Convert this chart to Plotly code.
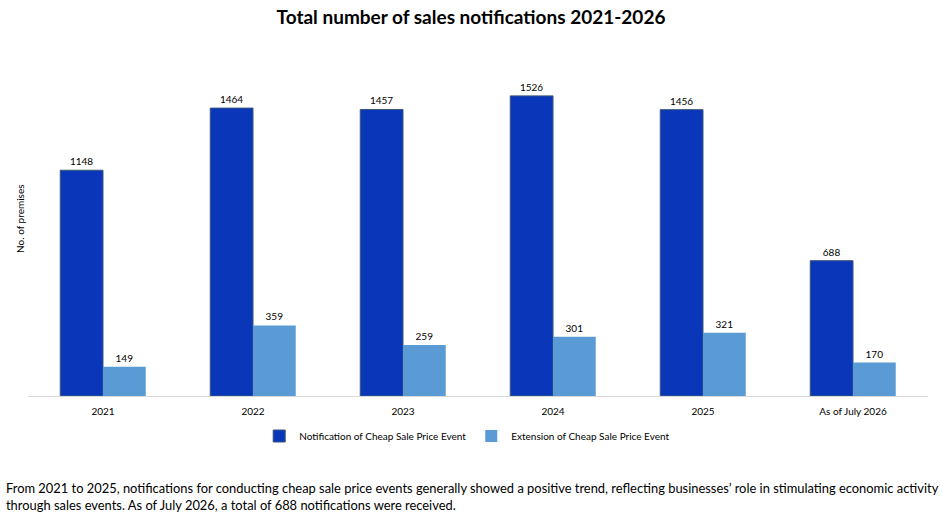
import plotly.graph_objects as go

categories = ["2021", "2022", "2023", "2024", "2025", "As of July 2026"]
notification = [1148, 1464, 1457, 1526, 1456, 688]
extension = [149, 359, 259, 301, 321, 170]

FONT = "Lato"

fig = go.Figure()
fig.add_trace(go.Bar(
    x=categories, y=notification, name="Notification of Cheap Sale Price Event",
    marker=dict(color="#0A37BA", line=dict(color="#3B5677", width=1)),
    text=notification, textposition="outside", cliponaxis=False,
    textfont=dict(size=10, color="#000000", family=FONT),
))
fig.add_trace(go.Bar(
    x=categories, y=extension, name="Extension of Cheap Sale Price Event",
    marker=dict(color="#5B9BD5", line=dict(width=0)),
    text=extension, textposition="outside", cliponaxis=False,
    textfont=dict(size=10, color="#000000", family=FONT),
))

fig.update_layout(
    width=942, height=517, autosize=False,
    margin=dict(l=28, r=14, t=42, b=121, autoexpand=False),
    paper_bgcolor="white", plot_bgcolor="white",
    barmode="group", bargap=0.43, bargroupgap=0,
    font=dict(family=FONT, color="#000000"),
    title=dict(text="<b>Total number of sales notifications 2021-2026</b>",
               x=0.5, xanchor="center", xref="container", yref="container", y=0.967, yanchor="middle",
               font=dict(size=19, family=FONT, color="#000000")),
    xaxis=dict(showline=True, linecolor="#D9D9D9", linewidth=1, ticks="", automargin=False,
               ticklabelstandoff=6,
               tickfont=dict(size=10, family=FONT, color="#000000"), showgrid=False),
    yaxis=dict(range=[0, 1800], showticklabels=False, showgrid=False, zeroline=False, automargin=False),
    legend=dict(orientation="h", x=0.488, xanchor="center", y=-0.113, yanchor="middle",
                font=dict(size=10, family=FONT, color="#000000"), traceorder="normal",
                itemwidth=30),
    showlegend=True,
)

fig.add_annotation(
    text="No. of premises", textangle=-90,
    xref="paper", yref="paper", x=-0.009, y=0.5, xanchor="center", yanchor="middle",
    showarrow=False, font=dict(size=10, family=FONT, color="#000000"),
)

fig.add_annotation(
    text="From 2021 to 2025, notifications for conducting cheap sale price events generally showed a positive trend, reflecting businesses\u2019 role in stimulating economic activity<br>through sales events. As of July 2026, a total of 688 notifications were received.",
    xref="paper", yref="paper", x=-0.0267, y=-0.232, xanchor="left", yanchor="top",
    align="left", showarrow=False, font=dict(size=12.9, family=FONT, color="#000000"),
)

fig.write_html("out.html", config={"displayModeBar": False},
               post_script="document.body.style.margin='0';")
